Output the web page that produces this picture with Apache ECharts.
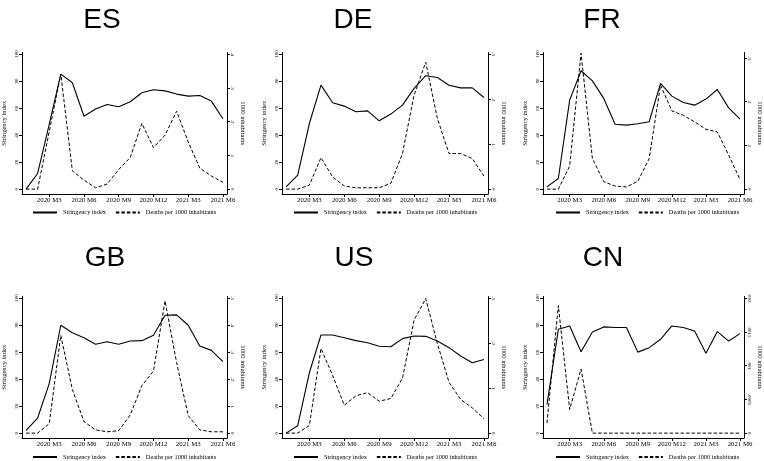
<!DOCTYPE html>
<html>
<head>
<meta charset="utf-8">
<script src="https://cdn.jsdelivr.net/npm/echarts@6/dist/echarts.min.js"></script>
<style>
  html, body { margin: 0; padding: 0; background: #fff; }
  #chart { width: 764px; height: 461px; }
</style>
</head>
<body>
<div id="chart"></div>
<script>
// Monthly panels, 2020 M1 .. 2021 M6 (index 0..17)
const countries = ['ES', 'DE', 'FR', 'GB', 'US', 'CN'];
const monthTicks = [2, 5, 8, 11, 14, 17];
const monthTickLabels = ['2020 M3', '2020 M6', '2020 M9', '2020 M12', '2021 M3', '2021 M6'];
const stringencyTicks = [0, 20, 40, 60, 80, 100];

const stringencyES = [0, 11.6, 48, 85.2, 78.8, 54, 59.3, 62.7, 61, 64.7, 71.4, 73.6, 72.8, 70.4, 68.9, 69.4, 65.2, 52.1];
const deathsES     = [0, 0, 0.17, 0.341, 0.054, 0.027, 0.004, 0.015, 0.058, 0.094, 0.195, 0.123, 0.16, 0.231, 0.14, 0.062, 0.039, 0.02];
const stringencyDE = [1.7, 10.4, 48.6, 77, 64, 61.5, 57.3, 58, 50.6, 55.6, 62.2, 74.6, 84, 82.7, 77, 75, 75, 67.9];
const deathsDE     = [0, 0, 0.009, 0.07, 0.027, 0.007, 0.003, 0.003, 0.003, 0.013, 0.079, 0.209, 0.282, 0.157, 0.079, 0.079, 0.068, 0.029];
const stringencyFR = [1.7, 7.9, 65.9, 87.7, 80.2, 67.2, 48.1, 47.4, 48.4, 49.9, 78.3, 68.9, 64.2, 62.2, 66.7, 73.8, 60.2, 51.9];
const deathsFR     = [0, 0, 0.053, 0.311, 0.07, 0.017, 0.007, 0.005, 0.018, 0.07, 0.238, 0.179, 0.169, 0.154, 0.137, 0.131, 0.078, 0.022];
const stringencyGB = [2, 11.2, 36.7, 79.9, 74.4, 70.7, 65.8, 67.7, 65.8, 68.2, 68.5, 72.5, 87.3, 87.6, 79.9, 64.5, 61.3, 52.9];
const deathsGB     = [0, 0, 0.035, 0.362, 0.161, 0.043, 0.012, 0.005, 0.009, 0.068, 0.176, 0.23, 0.49, 0.261, 0.065, 0.012, 0.005, 0.005];
const stringencyUS = [0, 5.5, 44.7, 72.7, 72.7, 70.7, 68.5, 67, 64.3, 64, 70, 72, 71.7, 68.2, 63.3, 57.1, 52.1, 54.6];
const deathsUS     = [0, 0, 0.017, 0.188, 0.128, 0.062, 0.083, 0.09, 0.071, 0.077, 0.122, 0.251, 0.299, 0.199, 0.113, 0.075, 0.056, 0.032];
const stringencyCN = [21.1, 76.9, 79.4, 60.3, 74.9, 78.7, 78.2, 78.2, 60, 63.3, 69.5, 79.4, 78.2, 75.7, 59.1, 75.2, 68.2, 73.7];
const deathsCN     = [0.00015, 0.00189, 0.00035, 0.00095, 0, 0, 0, 0, 0, 0, 0, 0, 0, 0, 0, 0, 0, 0];

const deathTicksES = [0, 0.1, 0.2, 0.3, 0.4];
const deathTicksDE = [0, 0.1, 0.2, 0.3];
const deathTicksFR = [0, 0.1, 0.2, 0.3];
const deathTicksGB = [0, 0.1, 0.2, 0.3, 0.4, 0.5];
const deathTicksUS = [0, 0.1, 0.2, 0.3];
const deathTicksCN = [0, 0.0005, 0.001, 0.0015, 0.002];

const stringencyName = 'Stringency index';
const deathsName = 'Deaths per 1000 inhabitants';

const panels = [
  { s: stringencyES, d: deathsES, ticks: deathTicksES, rTop: 0.4 },
  { s: stringencyDE, d: deathsDE, ticks: deathTicksDE, rTop: 0.3 },
  { s: stringencyFR, d: deathsFR, ticks: deathTicksFR, rTop: 0.309 },
  { s: stringencyGB, d: deathsGB, ticks: deathTicksGB, rTop: 0.5 },
  { s: stringencyUS, d: deathsUS, ticks: deathTicksUS, rTop: 0.3 },
  { s: stringencyCN, d: deathsCN, ticks: deathTicksCN, rTop: 0.002 }
];

// panel layout (pixels)
const colLeft = [21, 282, 543];
const plotW = 206;
const rowTop = [52.5, 296.5];
const rowBottom = [194, 438];
const titleX = [[102, 353, 602], [105, 354, 603]];
const titleY = [20, 258];
const legendTop = [209.5, 454];
const legendLeft = [32, 293, 555];
const W = 764, H = 461;
const leftMin = -3.6, leftMax = 101.2;

const serif = 'Liberation Serif';
const ink = '#000';

const fmtRight = v => v === 0 ? '0' : String(+v.toFixed(5)).replace(/^0\./, '.');
const fmtMonth = v => monthTickLabels[monthTicks.indexOf(Math.round(v))] || '';
const xy = arr => arr.map((v, i) => [i, v]);

const option = {
  animation: false,
  backgroundColor: '#fff',
  graphic: [], grid: [], xAxis: [], yAxis: [], series: [], legend: []
};

panels.forEach((p, k) => {
  const col = k % 3, row = Math.floor(k / 3);
  // panel heading
  option.graphic.push({
    type: 'text', x: titleX[row][col], y: titleY[row], silent: true,
    style: { text: countries[k], fontFamily: 'Liberation Sans', fontSize: 28,
      fill: ink, textAlign: 'center', textVerticalAlign: 'middle' }
  });
  option.grid.push({
    left: colLeft[col], width: plotW, top: rowTop[row], height: rowBottom[row] - rowTop[row],
    containLabel: false
  });
  option.xAxis.push({
    gridIndex: k, type: 'value', min: -0.35, max: 17.35,
    axisLine: { onZero: false, lineStyle: { color: ink, width: 1 } },
    axisTick: { show: true, customValues: monthTicks, length: 3, lineStyle: { color: ink, width: 1 } },
    axisLabel: { customValues: monthTicks, formatter: fmtMonth, margin: 3,
      fontFamily: serif, fontSize: 6.8, color: ink },
    splitLine: { show: false }
  });
  option.yAxis.push({
    gridIndex: k, type: 'value', position: 'left', min: leftMin, max: leftMax,
    name: stringencyName, nameLocation: 'middle', nameGap: 14,
    nameTextStyle: { fontFamily: serif, fontSize: 6.6, color: ink },
    axisLine: { show: true, onZero: false, lineStyle: { color: ink, width: 1 } },
    axisTick: { show: true, customValues: stringencyTicks, length: 3, lineStyle: { color: ink, width: 1 } },
    axisLabel: { customValues: stringencyTicks, rotate: 90, margin: 3,
      fontFamily: serif, fontSize: 5, color: ink },
    splitLine: { show: false }
  });
  const f = p.rTop / 100;
  option.yAxis.push({
    gridIndex: k, type: 'value', position: 'right', min: leftMin * f, max: leftMax * f,
    name: '1000 inhabitants', nameLocation: 'middle', nameGap: 12, nameRotate: -90,
    nameTextStyle: { fontFamily: serif, fontSize: 6.6, color: ink },
    axisLine: { show: true, onZero: false, lineStyle: { color: ink, width: 1 } },
    axisTick: { show: true, customValues: p.ticks, length: 3, lineStyle: { color: ink, width: 1 } },
    axisLabel: { customValues: p.ticks, rotate: -90, margin: 3, formatter: fmtRight,
      fontFamily: serif, fontSize: 5, color: ink },
    splitLine: { show: false }
  });
  option.series.push({
    name: stringencyName, type: 'line', xAxisIndex: k, yAxisIndex: 2 * k,
    data: xy(p.s), symbol: 'none', showSymbol: false,
    lineStyle: { color: ink, width: 1.1 }, itemStyle: { color: ink }
  });
  option.series.push({
    name: deathsName, type: 'line', xAxisIndex: k, yAxisIndex: 2 * k + 1,
    data: xy(p.d), symbol: 'none', showSymbol: false,
    lineStyle: { color: ink, width: 1, type: [3.5, 2] }, itemStyle: { color: ink }
  });
  option.legend.push({
    data: [stringencyName, deathsName], left: legendLeft[col], top: legendTop[row],
    padding: 0, itemWidth: 24, itemHeight: 7, itemGap: 9, selectedMode: false,
    itemStyle: { opacity: 0 },
    textStyle: { fontFamily: serif, fontSize: 6.3, color: ink, padding: [0, 0, 0, 1] }
  });
});

const chart = echarts.init(document.getElementById('chart'), null, { renderer: 'canvas', width: W, height: H });
chart.setOption(option);
</script>
</body>
</html>
